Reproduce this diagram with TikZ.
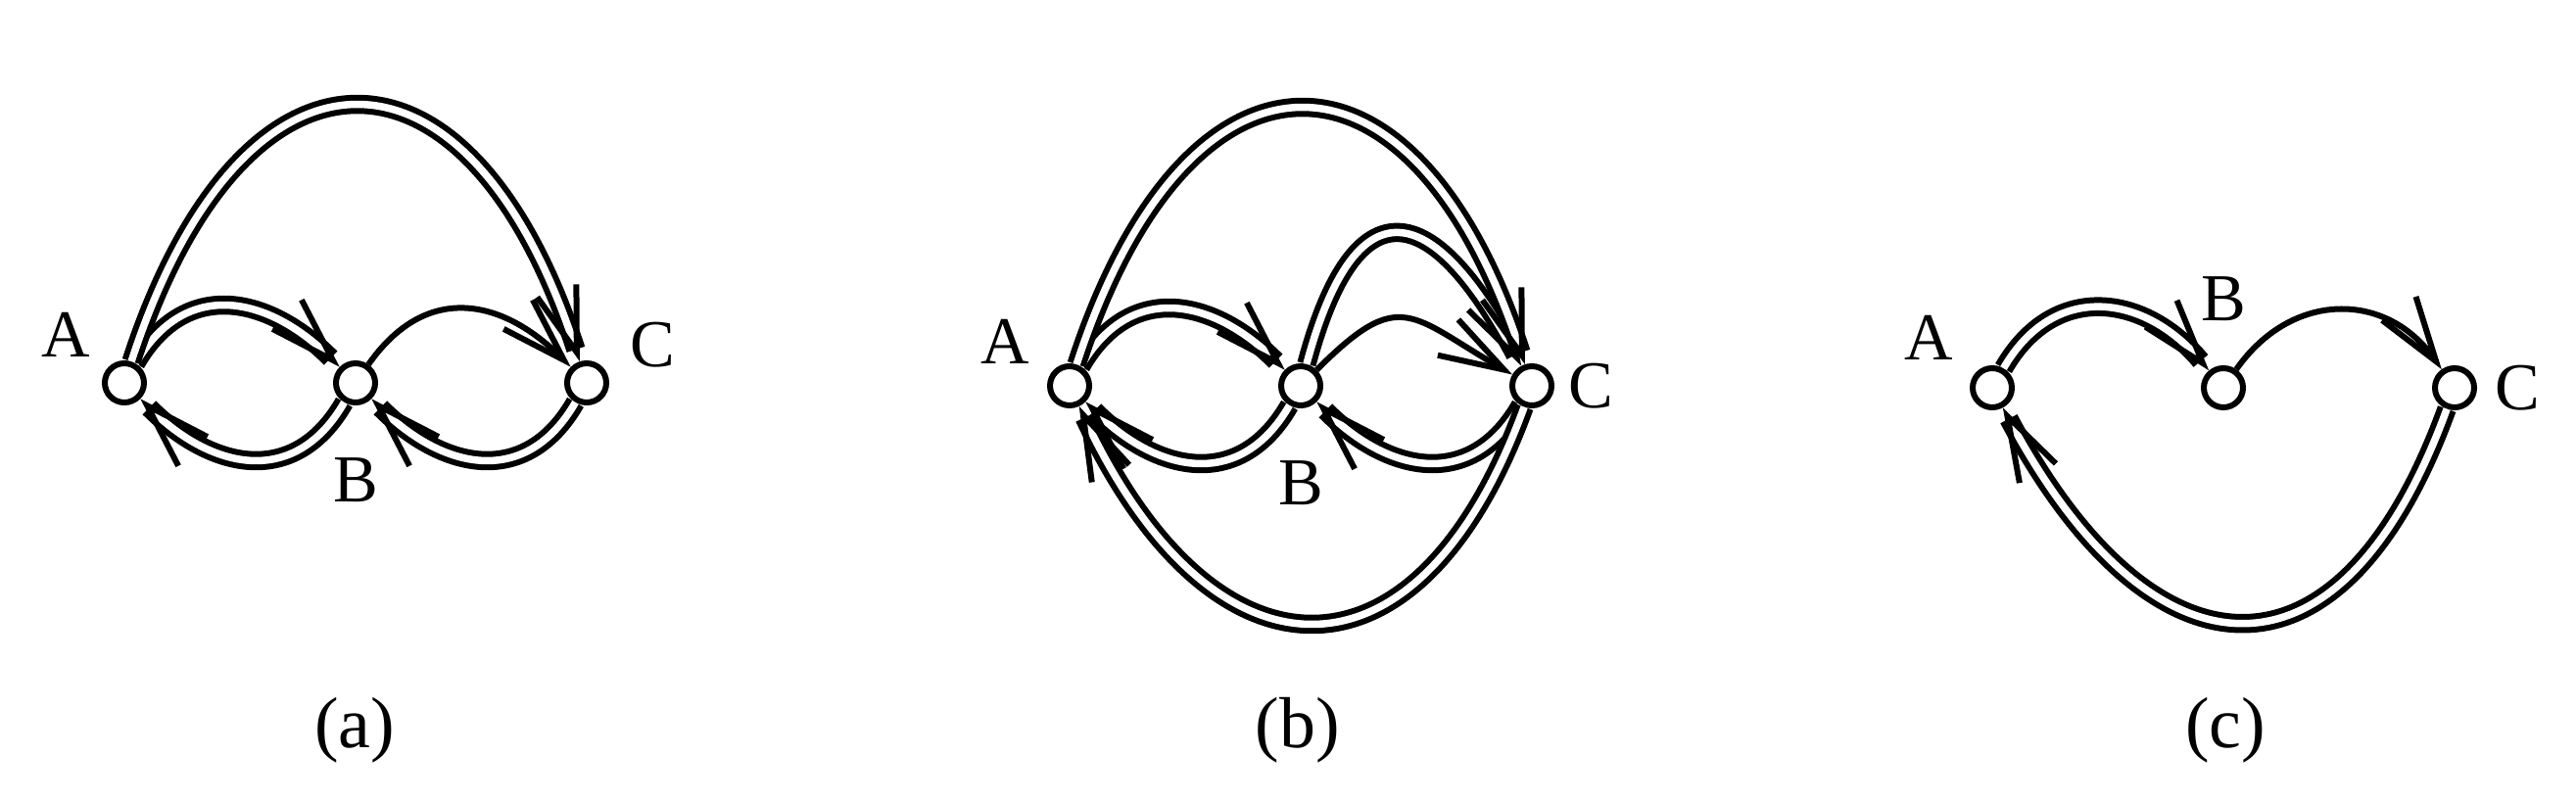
\documentclass[tikz,border=0pt]{standalone}
\usepackage{fontspec}
\setmainfont{Liberation Serif}
\usetikzlibrary{calc, arrows.meta, positioning}

\tikzset{
  vertex/.style={draw, circle, line width=0.06cm, minimum size=0.4cm, inner sep=0pt, fill=white},
  lbl/.style={inner sep=0pt, font=\fontsize{19.5}{19.5}\selectfont},
  capt/.style={inner sep=0pt, font=\fontsize{21}{21}\selectfont},
  dbl/.style={double, double distance=0.075cm, line width=0.06cm},
  sgl/.style={line width=0.06cm},
  tip/.style={-{Straight Barb[length=0.66cm, width=0.42cm, line width=0.06cm]}}
}

\begin{document}
\begin{tikzpicture}[node distance=1.9cm]
\useasboundingbox (0,0) rectangle (26.3,8.2);

% (a)
\begin{scope}
  \node[vertex] (Aa) at (1.27,4.29) {};
  \node[vertex] (Ba) [right=of Aa] {};
  \node[vertex] (Ca) [right=of Ba] {};
  \node[lbl] (tAa) at ($(Aa)+(-0.60,0.49)$) {A};
  \node[lbl] (tBa) at ($(Ba)+(0,-0.99)$) {B};
  \node[lbl] (tCa) at ($(Ca)+(0.67,0.39)$) {C};
  \node[capt] (capa) at (3.62,0.74) {(a)};

  \draw[dbl, tip] (Aa) to[out=60, in=135, looseness=1.25] (Ba);
  \draw[sgl, tip] (Ba) to[out=55, in=135, looseness=1.25] (Ca);
  \draw[dbl, tip] (Ba) to[out=-120, in=-45, looseness=1.25] (Aa);
  \draw[dbl, tip] (Ca) to[out=-120, in=-45, looseness=1.25] (Ba);
  \draw[dbl, tip] (Aa) to[out=72, in=108, looseness=2.05] (Ca);
\end{scope}

% (b)
\begin{scope}[xshift=9.65cm]
  \node[vertex] (Ab) at (1.27,4.26) {};
  \node[vertex] (Bb) [right=of Ab] {};
  \node[vertex] (Cb) [right=of Bb] {};
  \node[lbl] (tAb) at ($(Ab)+(-0.66,0.45)$) {A};
  \node[lbl] (tBb) at ($(Bb)+(0,-0.99)$) {B};
  \node[lbl] (tCb) at ($(Cb)+(0.60,0)$) {C};
  \node[capt] (capb) at (3.60,0.74) {(b)};

  \draw[dbl, tip] (Ab) to[out=60, in=135, looseness=1.25] (Bb);
  \draw[sgl, tip] (Bb) to[out=45, in=150, looseness=1.55] (Cb);
  \draw[dbl, tip] (Bb) to[out=75, in=118, looseness=2.25] (Cb);
  \draw[dbl, tip] (Bb) to[out=-120, in=-45, looseness=1.25] (Ab);
  \draw[dbl, tip] (Cb) to[out=-120, in=-45, looseness=1.25] (Bb);
  \draw[dbl, tip] (Ab) to[out=72, in=108, looseness=2.05] (Cb);
  \draw[dbl, tip] (Cb) to[out=-110, in=-65, looseness=1.8] (Ab);
\end{scope}

% (c)
\begin{scope}[xshift=19.07cm]
  \node[vertex] (Ac) at (1.27,4.24) {};
  \node[vertex] (Bc) [right=of Ac] {};
  \node[vertex] (Cc) [right=of Bc] {};
  \node[lbl] (tAc) at ($(Ac)+(-0.65,0.51)$) {A};
  \node[lbl] (tBc) at ($(Bc)+(0,0.91)$) {B};
  \node[lbl] (tCc) at ($(Cc)+(0.64,0)$) {C};
  \node[capt] (capc) at (3.65,0.74) {(c)};

  \draw[dbl, tip] (Ac) to[out=60, in=130, looseness=1.25] (Bc);
  \draw[sgl, tip] (Bc) to[out=55, in=125, looseness=1.2] (Cc);
  \draw[dbl, tip] (Cc) to[out=-110, in=-62, looseness=1.8] (Ac);
\end{scope}
\end{tikzpicture}
\end{document}
